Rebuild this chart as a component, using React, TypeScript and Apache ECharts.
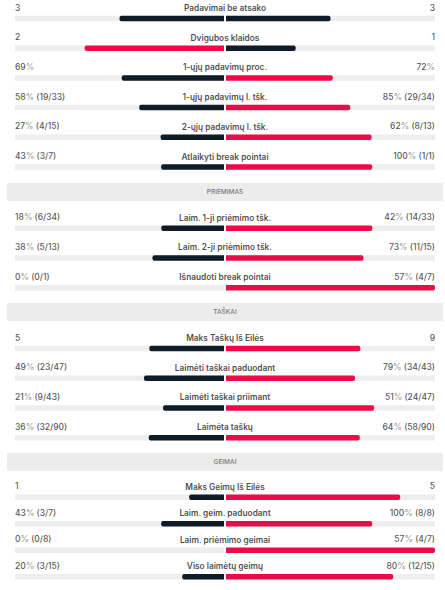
import React, { useEffect, useRef } from "react";
import * as echarts from "echarts";

// ---- Data ----
const serveTitles = ["Padavimai be atsako", "Dvigubos klaidos", "1-ųjų padavimų proc.", "1-ųjų padavimų l. tšk.", "2-ųjų padavimų l. tšk.", "Atlaikyti break pointai"];
const serveLeftText = ["3", "2", "69%", "58% (19/33)", "27% (4/15)", "43% (3/7)"];
const serveRightText = ["3", "1", "72%", "85% (29/34)", "62% (8/13)", "100% (1/1)"];
const serveLeft = [3, 2, 69, 58, 27, 43];
const serveRight = [3, 1, 72, 85, 62, 100];

const returnTitles = ["Laim. 1-ji priėmimo tšk.", "Laim. 2-ji priėmimo tšk.", "Išnaudoti break pointai"];
const returnLeftText = ["18% (6/34)", "38% (5/13)", "0% (0/1)"];
const returnRightText = ["42% (14/33)", "73% (11/15)", "57% (4/7)"];
const returnLeft = [18, 38, 0];
const returnRight = [42, 73, 57];

const pointsTitles = ["Maks Taškų Iš Eilės", "Laimėti taškai paduodant", "Laimėti taškai priimant", "Laimėta taškų"];
const pointsLeftText = ["5", "49% (23/47)", "21% (9/43)", "36% (32/90)"];
const pointsRightText = ["9", "79% (34/43)", "51% (24/47)", "64% (58/90)"];
const pointsLeft = [5, 49, 21, 36];
const pointsRight = [9, 79, 51, 64];

const gamesTitles = ["Maks Geimų Iš Eilės", "Laim. geim. paduodant", "Laim. priėmimo geimai", "Viso laimėtų geimų"];
const gamesLeftText = ["1", "43% (3/7)", "0% (0/8)", "20% (3/15)"];
const gamesRightText = ["5", "100% (8/8)", "57% (4/7)", "80% (12/15)"];
const gamesLeft = [1, 43, 0, 20];
const gamesRight = [5, 100, 57, 80];

const sectionHeaders = ["PRIĖMIMAS", "TAŠKAI", "GEIMAI"];

// ---- Styling ----
const DARK = "#0f1c27";
const RED = "#ee0a46";
const TRACK = "#eeeeee";
const HEADER_BG = "#ececec";
const FONT = "Inter, 'Noto Sans', sans-serif";

const ROW_H = 29.7;
const sections = [
  { top: 3.65, titles: serveTitles, lt: serveLeftText, rt: serveRightText, lv: serveLeft, rv: serveRight },
  { top: 213.4, titles: returnTitles, lt: returnLeftText, rt: returnRightText, lv: returnLeft, rv: returnRight },
  { top: 333.7, titles: pointsTitles, lt: pointsLeftText, rt: pointsRightText, lv: pointsLeft, rv: pointsRight },
  { top: 483.9, titles: gamesTitles, lt: gamesLeftText, rt: gamesRightText, lv: gamesLeft, rv: gamesRight },
];
const headerBoxes = [183, 303, 453];

function pctRich(s: string) {
  return s.replace(/%/g, "{p|%}");
}

function buildOption() {
  const grid: any[] = [];
  const xAxis: any[] = [];
  const yAxis: any[] = [];
  const series: any[] = [];
  sections.forEach((sec) => {
    const n = sec.titles.length;
    const h = n * ROW_H;
    const cats = sec.titles.map((_, i) => String(i));
    const base = grid.length;
    grid.push({ left: 15, width: 209, top: sec.top, height: h });
    grid.push({ left: 226, width: 209, top: sec.top, height: h });
    grid.push({ left: 15, width: 420, top: sec.top, height: h });
    xAxis.push({ gridIndex: base, type: "value", min: 0, max: 1, inverse: true, show: false });
    xAxis.push({ gridIndex: base + 1, type: "value", min: 0, max: 1, show: false });
    xAxis.push({ gridIndex: base + 2, type: "value", min: -1, max: 1, show: false });
    for (let k = 0; k < 3; k++) {
      yAxis.push({ gridIndex: base + k, type: "category", data: cats, inverse: true, show: false });
    }
    const lShare = sec.lv.map((l, i) => (l + sec.rv[i] > 0 ? l / (l + sec.rv[i]) : 0));
    const rShare = sec.rv.map((r, i) => (r + sec.lv[i] > 0 ? r / (r + sec.lv[i]) : 0));
    series.push({
      type: "bar",
      xAxisIndex: base,
      yAxisIndex: base,
      barWidth: 5.5,
      showBackground: true,
      backgroundStyle: { color: TRACK },
      data: lShare.map((v, i) => ({
        value: v,
        itemStyle: { color: sec.lv[i] > sec.rv[i] ? RED : DARK, borderRadius: [2, 0, 0, 2] },
      })),
    });
    series.push({
      type: "bar",
      xAxisIndex: base + 1,
      yAxisIndex: base + 1,
      barWidth: 5.5,
      showBackground: true,
      backgroundStyle: { color: TRACK },
      data: rShare.map((v, i) => ({
        value: v,
        itemStyle: { color: sec.rv[i] > sec.lv[i] ? RED : DARK, borderRadius: [0, 2, 2, 0] },
      })),
    });
    const textStyleBase = {
      show: true,
      position: "top",
      distance: 6.5,
      fontFamily: FONT,
      fontSize: 8.5,
      color: "#2a2a2a",
      rich: { p: { fontFamily: FONT, fontSize: 8.5, color: "#8a8a8a" } },
    };
    series.push({
      type: "scatter",
      xAxisIndex: base + 2,
      yAxisIndex: base + 2,
      symbolSize: 0,
      silent: true,
      data: sec.titles.map((t, i) => ({ value: [0, i], name: t })),
      label: { ...textStyleBase, fontSize: 8.3, fontWeight: 600, color: "#1a1a1a", align: "center", formatter: (p: any) => p.name },
    });
    series.push({
      type: "scatter",
      xAxisIndex: base + 2,
      yAxisIndex: base + 2,
      symbolSize: 0,
      silent: true,
      data: sec.lt.map((t, i) => ({ value: [-1, i], name: t })),
      label: { ...textStyleBase, fontWeight: 500, align: "left", formatter: (p: any) => pctRich(p.name) },
    });
    series.push({
      type: "scatter",
      xAxisIndex: base + 2,
      yAxisIndex: base + 2,
      symbolSize: 0,
      silent: true,
      data: sec.rt.map((t, i) => ({ value: [1, i], name: t })),
      label: { ...textStyleBase, fontWeight: 500, align: "right", formatter: (p: any) => pctRich(p.name) },
    });
  });

  const graphic: any[] = [];
  headerBoxes.forEach((y, i) => {
    graphic.push({
      type: "rect",
      left: 7,
      top: y,
      shape: { width: 436, height: 18, r: 2 },
      style: { fill: HEADER_BG },
      silent: true,
    });
    graphic.push({
      type: "text",
      x: 225,
      y: y + 9,
      style: {
        text: sectionHeaders[i],
        fill: "#7a7a7a",
        font: `500 6.5px ${FONT}`,
        textAlign: "center",
        textVerticalAlign: "middle",
      },
      silent: true,
    });
  });

  return {
    animation: false,
    backgroundColor: "#ffffff",
    grid,
    xAxis,
    yAxis,
    series,
    graphic,
  };
}

export default function App() {
  const ref = useRef<HTMLDivElement>(null);
  useEffect(() => {
    if (!ref.current) return;
    const chart = echarts.init(ref.current, null, { renderer: "svg" });
    chart.setOption(buildOption() as any);
    return () => chart.dispose();
  }, []);
  return (
    <div
      ref={ref}
      style={{ position: "fixed", left: 0, top: 0, width: 445, height: 590, background: "#fff" }}
    />
  );
}
